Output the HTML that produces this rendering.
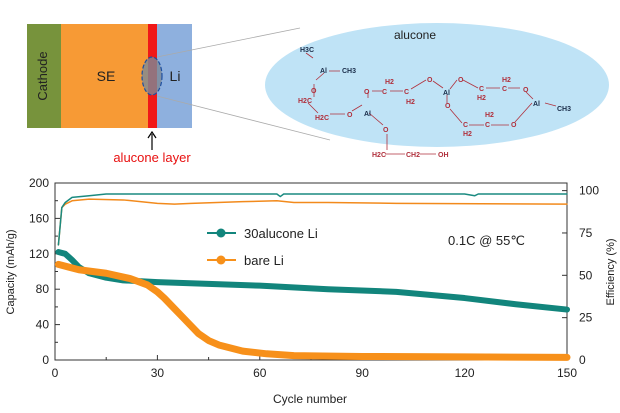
<!DOCTYPE html>
<html><head><meta charset="utf-8"><style>
body{margin:0;width:620px;height:413px;background:#fff;overflow:hidden;font-family:"Liberation Sans",sans-serif}
svg{display:block}
</style></head><body>
<svg width="620" height="413" viewBox="0 0 620 413">
<g>
<rect x="27" y="24" width="34" height="104" fill="#77933c"/>
<text transform="translate(47,76) rotate(-90)" font-size="13" text-anchor="middle" fill="#222">Cathode</text>
<rect x="61" y="24" width="88" height="104" fill="#f79a35"/>
<text x="106" y="81" font-size="14" text-anchor="middle" fill="#222">SE</text>
<rect x="157" y="24" width="35" height="104" fill="#8eb0de"/>
<text x="175" y="81" font-size="14" text-anchor="middle" fill="#222">Li</text>
<rect x="148" y="24" width="9" height="104" fill="#f01818"/>
<ellipse cx="152" cy="76" rx="10" ry="19" fill="#7d8a96" fill-opacity="0.8" stroke="#1e4fa0" stroke-dasharray="4,2" stroke-width="1.2"/>
<line x1="157" y1="57" x2="300" y2="28" stroke="#aaa" stroke-width="0.8"/>
<line x1="157" y1="96" x2="330" y2="140" stroke="#aaa" stroke-width="0.8"/>
<line x1="152" y1="150" x2="152" y2="134" stroke="#000" stroke-width="1.2"/>
<path d="M148,138 L152,132 L156,138" fill="none" stroke="#000" stroke-width="1.2"/>
<text x="152" y="162" font-size="13" text-anchor="middle" fill="#e81010">alucone layer</text>
<ellipse cx="437" cy="85" rx="172" ry="62" fill="#bfe3f6"/>
<text x="415" y="39" font-size="12" text-anchor="middle" fill="#222">alucone</text>
<g stroke="#b0303c" stroke-width="0.8" fill="none">
<path d="M313,58 L306,53 M329,71 L340,71 M324,73 L316,80 M314,84 L314,97 M308,103 L318,113 M330,114 L345,114 M352,111 L362,105 M368,98 L368,92 M372,91 L382,91 M390,91 L403,91 M411,89 L426,80 M433,81 L443,88 M450,89 L457,80 M463,80 L478,88 M486,88 L500,88 M508,88 L520,88 M526,92 L533,99 M545,103 L556,106 M447,95 L447,103 M450,109 L462,123 M469,125 L484,125 M491,125 L509,125 M515,122 L532,103 M369,113 L383,125 M387,134 L387,150 M385,154 L405,154 M420,154 L436,154"/>
</g>
<g font-size="7" font-weight="bold">
<g fill="#1a2d4a"><text x="300" y="52">H3C</text><text x="320" y="73">Al</text><text x="342" y="73">CH3</text>
<text x="364" y="116">Al</text><text x="443" y="95">Al</text><text x="533" y="106">Al</text><text x="557" y="111">CH3</text></g>
<g fill="#b0303c"><text x="311" y="93">O</text><text x="298" y="103">H2C</text><text x="315" y="120">H2C</text><text x="347" y="117">O</text>
<text x="364" y="94">O</text><text x="382" y="94">C</text><text x="385" y="84">H2</text><text x="404" y="94">C</text><text x="406" y="104">H2</text><text x="427" y="82">O</text>
<text x="458" y="82">O</text><text x="479" y="91">C</text><text x="477" y="100">H2</text><text x="502" y="91">C</text><text x="502" y="82">H2</text><text x="523" y="92">O</text>
<text x="445" y="108">O</text><text x="463" y="127">C</text><text x="463" y="136">H2</text><text x="485" y="127">C</text><text x="485" y="117">H2</text><text x="511" y="127">O</text>
<text x="383" y="132">O</text><text x="372" y="157">H2C</text><text x="406" y="157">CH2</text><text x="438" y="157">OH</text></g>
</g>
</g>
<g id="chart"></g>
</svg>
<script>
const ticksX=[0,30,60,90,120,150];
const ticksY=[0,40,80,120,160,200];
const ticksEff=[0,25,50,75,100];
const cycTeal=[1,2,3,5,7,10,15,20,30,45,60,80,100,120,135,150];
const capTeal=[122,121,120,113,105,98,93,90,88,86,84,80,77,70,63,57];
const cycOrange=[1,4,7,15,22,27,30,32,35,37,40,42,45,48,55,62,70,90,120,150];
const capOrange=[108,105,102,98,92,85,77,70,58,50,38,30,22,17,10,7,5,4,3.5,3];
const cycEffTeal=[1,2,3,5,10,15,30,50,65,66,67,90,120,123,124,150];
const effTeal=[68,90,93,96,97,98,98,98,98,96.5,98,98,98,97,98,98];
const cycEffOrange=[1,2,3,5,10,20,30,35,40,55,65,70,80,100,150];
const effOrange=[68,90,92,94,95,94.5,92.5,92,92.5,93.5,94,93,93,92.5,92];
const L=55,R=567,T=183,B=360;
const sx=c=>L+(R-L)*c/150, sy=v=>B-(B-T)*v/200, se=v=>B-(B-T)*v/104.5;
const NS='http://www.w3.org/2000/svg', g=document.getElementById('chart');
function mk(t,a,p){const e=document.createElementNS(NS,t);for(const k in a)e.setAttribute(k,a[k]);(p||g).appendChild(e);return e;}
const ax=mk('g',{stroke:'#333','stroke-width':1,fill:'none'});


mk('rect',{x:L,y:T,width:R-L,height:B-T},ax);
ticksX.forEach(t=>{mk('line',{x1:sx(t),x2:sx(t),y1:B,y2:B-5},ax);if(t<150)mk('line',{x1:sx(t+15),x2:sx(t+15),y1:B,y2:B-3},ax);
 const tx=mk('text',{x:sx(t),y:B+17,'font-size':12,'text-anchor':'middle',fill:'#222',stroke:'none'});tx.textContent=t;
 
 });
ticksY.forEach(t=>{mk('line',{x1:L,x2:L+5,y1:sy(t),y2:sy(t)},ax);if(t<200)mk('line',{x1:L,x2:L+3,y1:sy(t+20),y2:sy(t+20)},ax);
 const tx=mk('text',{x:L-6,y:sy(t)+4,'font-size':12,'text-anchor':'end',fill:'#222',stroke:'none'});tx.textContent=t;
 
 });
ticksEff.forEach(t=>{mk('line',{x1:R,x2:R-5,y1:se(t),y2:se(t)},ax);
 const tx=mk('text',{x:R+12,y:se(t)+4,'font-size':12,'text-anchor':'start',fill:'#222',stroke:'none'});tx.textContent=t;
 
 });
let t=mk('text',{x:310,y:403,'font-size':12,'text-anchor':'middle',fill:'#222'});t.textContent='Cycle number';


t=mk('text',{transform:'translate(14,272) rotate(-90)','font-size':11,'text-anchor':'middle',fill:'#222'});t.textContent='Capacity (mAh/g)';


t=mk('text',{transform:'translate(614,272) rotate(-90)','font-size':11,'text-anchor':'middle',fill:'#222'});t.textContent='Efficiency (%)';


function line(xs,ys,f,col,w,name){const p=mk('polyline',{points:xs.map((c,i)=>sx(c)+','+f(ys[i])).join(' '),fill:'none',stroke:col,'stroke-width':w,'stroke-linejoin':'round','stroke-linecap':'round'});
 
 }
line(cycEffOrange,effOrange,se,'#f28a1c',1.5,'efficiency-bare-li');
line(cycEffTeal,effTeal,se,'#1a8a80',1.5,'efficiency-30alucone-li');
line(cycTeal,capTeal,sy,'#12857c',6,'capacity-30alucone-li');
line(cycOrange,capOrange,sy,'#f7901a',7,'capacity-bare-li');
function leg(y,col,label,name){const lg=mk('g',{});
 
 
 mk('line',{x1:207,x2:236,y1:y,y2:y,stroke:col,'stroke-width':2},lg);mk('circle',{cx:221,cy:y,r:4.5,fill:col},lg);
 const tx=mk('text',{x:244,y:y+5,'font-size':13,fill:'#222'},lg);tx.textContent=label;}
leg(233,'#12857c','30alucone Li','legend-30alucone-li');
leg(260,'#f7901a','bare Li','legend-bare-li');
t=mk('text',{x:448,y:245,'font-size':13,fill:'#222'});t.textContent='0.1C @ 55℃';


</script>
</body></html>
